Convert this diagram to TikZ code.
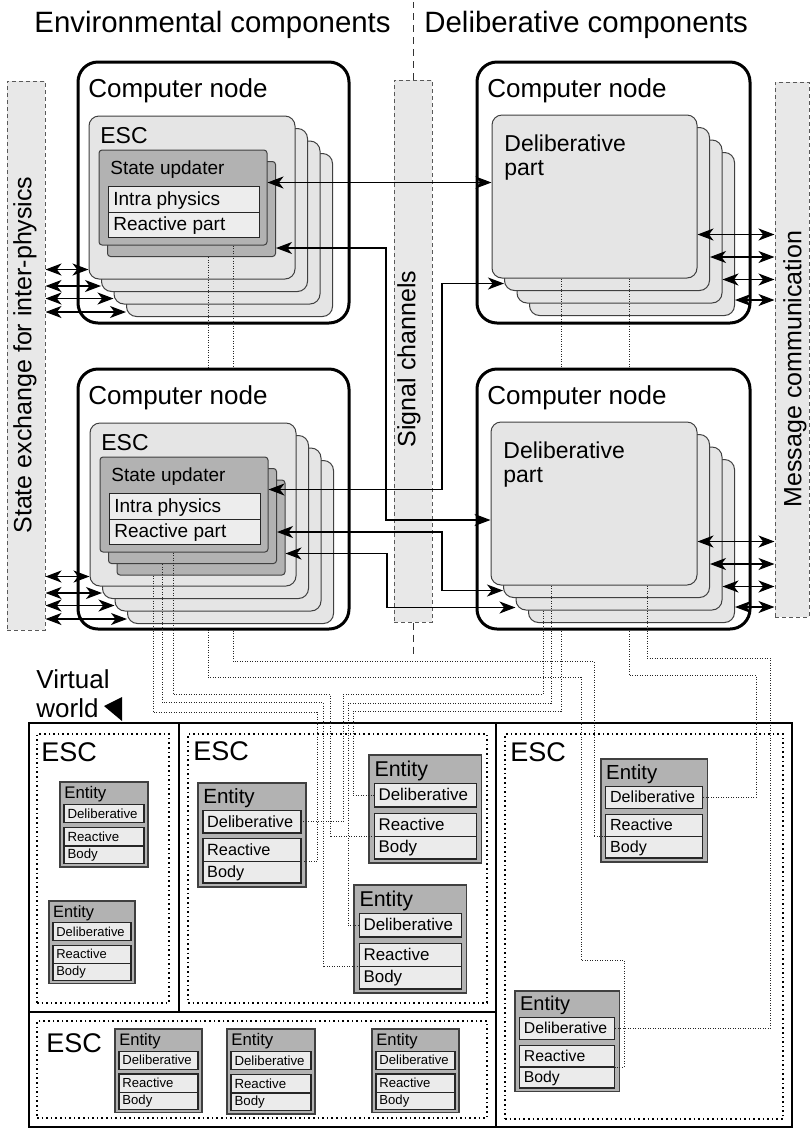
\documentclass[tikz,border=0pt]{standalone}
\usepackage{fontspec}
\setmainfont{Liberation Sans}
\usetikzlibrary{arrows.meta,positioning,fit,calc}

% entity block: name, x, y, scale
\newcommand{\entity}[4]{%
  \begin{scope}[shift={(#2,#3)}, scale=#4, every node/.append style={transform shape}]
    \node[ent] (#1) at (0,0) {};
    \node[enthd] at (5,21) {Entity};
    \node[entpart] (#1-d) at (5,28) {};
    \node[entpart] (#1-r) at (5,57) {};
    \node[entpart, minimum height=11pt] (#1-b) at (5,80) {};
    \node[enttx] at (9,45) {Deliberative};
    \node[enttx] at (9,74) {Reactive};
    \node[enttx] at (9,96) {Body};
  \end{scope}}

\begin{document}
\begin{tikzpicture}[x=0.5pt, y=-0.5pt,
    cnode/.style={draw, line width=1.5pt, rounded corners=10pt, fill=white, inner sep=0pt},
    layer/.style={draw=black!75, line width=0.5pt, fill=black!10, rounded corners=5pt, inner sep=0pt},
    supd/.style={draw=black!75, line width=0.5pt, fill=black!30, rounded corners=1.5pt, inner sep=0pt},
    part/.style={draw=black!85, line width=0.5pt, fill=black!7, inner sep=0pt},
    chan/.style={draw=black!65, line width=0.5pt, dash pattern=on 2pt off 1.5pt, fill=black!9, inner sep=0pt},
    cell/.style={draw, line width=1.1pt, inner sep=0pt},
    escbox/.style={draw, line width=0.8pt, dash pattern=on 0.8pt off 1.5pt, inner sep=0pt},
    ent/.style={draw=black!75, line width=0.7pt, fill=black!30, anchor=north west, minimum width=55pt, minimum height=53pt, inner sep=0pt, outer sep=0pt},
    entpart/.style={draw=black!85, line width=0.6pt, fill=black!8, anchor=north west, minimum width=50pt, minimum height=11.5pt, inner sep=0pt, outer sep=0pt},
    lbl/.style={anchor=base west, inner sep=0pt},
    title/.style={lbl, font=\fontsize{14.7pt}{17pt}\selectfont},
    big/.style={lbl, font=\fontsize{13pt}{15pt}\selectfont},
    mid/.style={lbl, font=\fontsize{11.5pt}{13pt}\selectfont},
    small/.style={lbl, font=\fontsize{9.5pt}{11pt}\selectfont},
    vesc/.style={lbl, font=\fontsize{13.5pt}{15pt}\selectfont},
    enthd/.style={lbl, font=\fontsize{10.5pt}{12pt}\selectfont},
    enttx/.style={lbl, font=\fontsize{8.3pt}{10pt}\selectfont},
    side/.style={rotate=90, inner sep=0pt, font=\fontsize{12.5pt}{14pt}\selectfont},
    wire/.style={black!85, line width=0.5pt, dash pattern=on 0.45pt off 0.8pt},
    divline/.style={black!80, line width=0.5pt, dash pattern=on 3.5pt off 2.5pt},
    sig/.style={{Stealth[length=8pt,width=6pt,inset=2.3pt]}-{Stealth[length=8pt,width=6pt,inset=2.3pt]}, line width=0.6pt}
  ]
  \useasboundingbox (0,0) rectangle (811,1131);

  % virtual world
  \node[cell, fit={(29,723) (179,1012)}] (cellL) {};
  \node[cell, fit={(179,723) (496,1012)}] (cellM) {};
  \node[cell, fit={(29,1012) (496,1127)}] (cellB) {};
  \node[cell, fit={(496,723) (792,1127)}] (cellR) {};
  \node[escbox, fit={(37,734) (169,1003)}] (escL) {};
  \node[escbox, fit={(188,734) (487,1003)}] (escM) {};
  \node[escbox, fit={(37,1021) (487,1118)}] (escB) {};
  \node[escbox, fit={(505,734) (783,1119)}] (escR) {};
  \node[vesc] at (41,761) {ESC};
  \node[vesc] at (193,760) {ESC};
  \node[vesc] at (46,1052) {ESC};
  \node[vesc] at (510,761) {ESC};
  \node[big] (vw1) at (36,688) {Virtual};
  \node[big] (vw2) at (36,717) {world};
  \fill (104,706) -- (122,697) -- (122,721) -- cycle;

  \entity{l1}{60}{782}{0.8}
  \entity{l2}{49}{901}{0.78}
  \entity{m1}{198}{783}{0.98}
  \entity{m2}{369}{755}{1.02}
  \entity{m3}{354}{885}{1.02}
  \entity{r1}{601}{759}{0.97}
  \entity{r2}{515}{991}{0.95}
  \entity{b1}{115}{1029}{0.79}
  \entity{b2}{227}{1029}{0.8}
  \entity{b3}{372}{1029}{0.79}

  % channels
  \node[chan, fit={(7,81) (45,630)}] (sx) {};
  \node[side] at (25,355) {State exchange for inter-physics};
  \node[chan, fit={(394,80) (432,622)}] (sc) {};
  \node[side] at (409,359) {Signal channels};
  \node[chan, fit={(775,82) (809,617)}] (mc) {};
  \node[side] at (795,369) {Message communication};
  \draw[divline] (sc.north) -- ++(0,-78);
  \draw[divline] (sc.south) -- ++(0,34);
  \node[title] at (34,32) {Environmental components};
  \node[title] at (424,32) {Deliberative components};

  % top left computer node
  \node[cnode, fit={(78,62) (349,323)}] (cntl) {};
  \node[big] at (88,97) {Computer node};
  \foreach \i in {3,...,0}
    \node[layer, fit={(89+12.5*\i,116+12.5*\i) (295+12.5*\i,279+12.5*\i)}] (esctl\i) {};
  \node[mid] at (100,143) {ESC};
  \foreach \i in {1,0}
    \node[supd, fit={(99+8.5*\i,150+11.5*\i) (267+8.5*\i,245+11.5*\i)}] (tlsu\i) {};
  \node[small] at (110,174) {State updater};
  \node[part, fit={(108,186) (259,212)}] (tlip) {};
  \node[part, fit={(108,212) (259,237)}] (tlrp) {};
  \node[small] at (113,205) {Intra physics};
  \node[small] at (113,230) {Reactive part};

  % top right computer node
  \node[cnode, fit={(477,62) (750,323)}] (cntr) {};
  \node[big] at (487,97) {Computer node};
  \foreach \i in {3,...,0}
    \node[layer, fit={(492+12.5*\i,115+12.5*\i) (697+12.5*\i,278+12.5*\i)}] (dtr\i) {};
  \node[mid] at (504,151) {Deliberative};
  \node[mid] at (504,175) {part};

  % wires from the upper nodes
  \draw[wire] (tlsu1.south -| 208,0) |- (581,677) |- (624,960) |- (r2-r.south east);
  \draw[wire] (tlsu0.south -| 233,0) |- (594,661) |- (r1-r.south west);
  \draw[wire] (dtr0.south -| 561,0) |- (353,711) |- (m2-d.west);
  \draw[wire] (dtr0.south -| 629,0) |- (756,675) |- (r1-d.east);

  % bottom left computer node
  \node[cnode, fit={(78,369) (349,629)}] (cnbl) {};
  \node[big] at (88,404) {Computer node};
  \foreach \i in {3,...,0}
    \node[layer, fit={(90+12.5*\i,423+12.5*\i) (296+12.5*\i,586+12.5*\i)}] (escbl\i) {};
  \node[mid] at (101,450) {ESC};
  \foreach \i in {2,1,0}
    \node[supd, fit={(100+8.5*\i,457+11.5*\i) (268+8.5*\i,552+11.5*\i)}] (blsu\i) {};
  \node[small] at (111,481) {State updater};
  \node[part, fit={(109,493) (260,519)}] (blip) {};
  \node[part, fit={(109,519) (260,544)}] (blrp) {};
  \node[small] at (114,512) {Intra physics};
  \node[small] at (114,537) {Reactive part};

  % bottom right computer node
  \node[cnode, fit={(477,369) (750,629)}] (cnbr) {};
  \node[big] at (487,404) {Computer node};
  \foreach \i in {3,...,0}
    \node[layer, fit={(491+12.5*\i,422+12.5*\i) (697+12.5*\i,585+12.5*\i)}] (dbr\i) {};
  \node[mid] at (503,458) {Deliberative};
  \node[mid] at (503,482) {part};

  % wires from the lower nodes
  \draw[wire] (blsu2.south -| 153,0) |- (317,712) |- (m1-r.south east);
  \draw[wire] (blsu1.south -| 162,0) |- (323,702) |- (m3-r.south west);
  \draw[wire] (blsu0.south -| 173,0) |- (330,694) |- (m2-r.south west);
  \draw[wire] (dbr2.south -| 543,0) |- (343,694) |- (m1-d.east);
  \draw[wire] (dbr0.south -| 551,0) |- (348,703) |- (m3-d.west);
  \draw[wire] (dbr0.south -| 647,0) |- (770,658) |- (r2-d.east);

  % signal channels
  \coordinate (s1) at ([yshift=-16.5pt]tlsu0.north east);
  \draw[sig] (s1) -- (s1 -| dtr0.west);
  \draw[sig] ([yshift=4.5pt]tlsu1.south east) -| (386,400) |- ([yshift=-8.25pt]dbr0.west);
  \draw[sig] ([yshift=-16.5pt]blsu0.north east) -| (442,400) |- ([yshift=3.75pt]dtr1.south west);
  \draw[sig] ([yshift=16pt]blsu1.south east) -| (442,560) |- ([yshift=3.75pt]dbr1.south west);
  \draw[sig] ([yshift=11pt]blsu2.south east) -| (387,580) |- ([yshift=1.5pt]dbr2.south west);

  % state exchange and messages
  \foreach \i/\s in {0/5pt,1/3pt,2/3pt,3/2.5pt}{
    \coordinate (xt\i) at ([yshift=\s]esctl\i.south west);
    \draw[sig] (sx.east |- xt\i) -- (xt\i);
    \coordinate (xb\i) at ([yshift=\s]escbl\i.south west);
    \draw[sig] (sx.east |- xb\i) -- (xb\i);
  }
  \foreach \i/\s in {0/22pt,1/17pt,2/12pt,3/8pt}{
    \coordinate (mt\i) at ([yshift=\s]dtr\i.south east);
    \draw[sig] (mt\i) -- (mt\i -| mc.west);
    \coordinate (mb\i) at ([yshift=\s]dbr\i.south east);
    \draw[sig] (mb\i) -- (mb\i -| mc.west);
  }
\end{tikzpicture}
\end{document}
